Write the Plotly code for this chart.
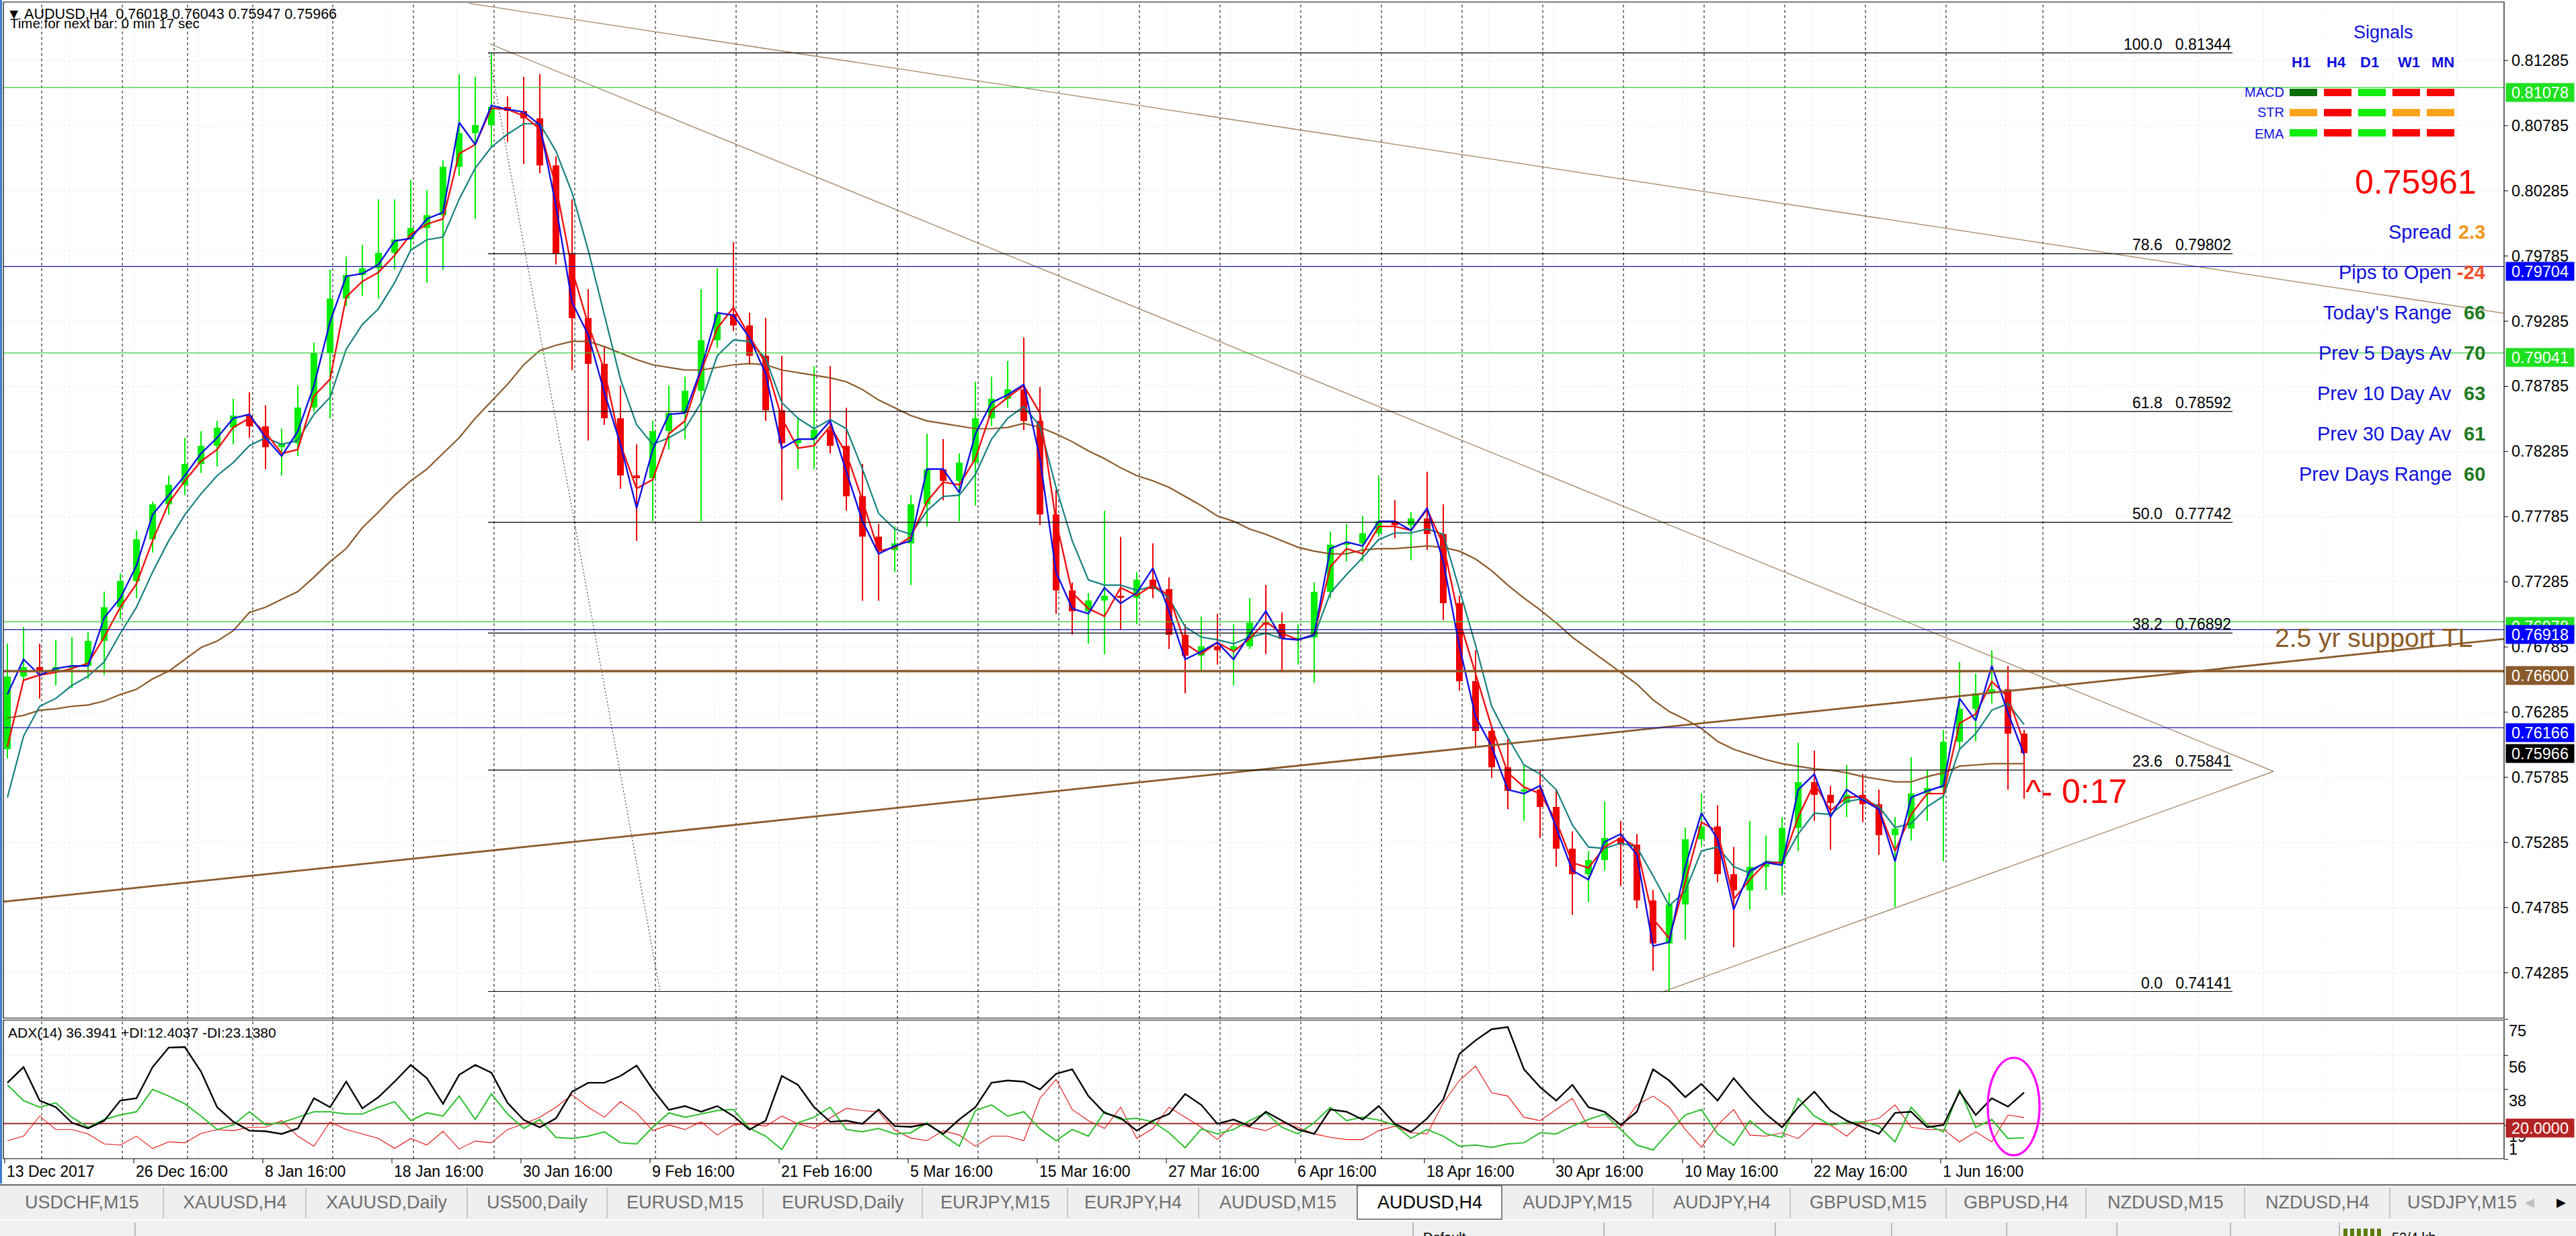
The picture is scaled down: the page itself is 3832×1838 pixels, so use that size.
import plotly.graph_objects as go

W, H = 3832, 1838
FONT = "Liberation Sans, Arial, sans-serif"

# ===================== data =====================
# one candle per trading day; x position in H4-bar units
bar_pos = [1 + 6 * k for k in range(126)]

open_ = [.7600,.7656,.7663,.7660,.7663,.7664,.7683,.7709,.7729,.7761,
         .7788,.7803,.7819,.7833,.7847,.7856,.7848,.7832,.7835,.7862,
         .7904,.7946,.7964,.7969,.7981,.7991,.8000,.8010,.8047,.8073,
         .8079,.8093,.8090,.8084,.8048,.7980,.7931,.7896,.7854,.7810,
         .7808,.7844,.7858,.7875,.7914,.7934,.7925,.7902,.7860,.7835,
         .7838,.7845,.7833,.7794,.7763,.7753,.7758,.7788,.7815,.7806,
         .7820,.7854,.7869,.7876,.7852,.7780,.7722,.7706,.7714,.7718,
         .7716,.7730,.7723,.7688,.7672,.7679,.7676,.7679,.7697,.7696,
         .7685,.7686,.7721,.7757,.7758,.7766,.7775,.7772,.7777,.7765,
         .7712,.7652,.7614,.7586,.7568,.7569,.7556,.7524,.7504,.7515,
         .7532,.7527,.7484,.7451,.7481,.7531,.7541,.7504,.7492,.7510,
         .7512,.7540,.7575,.7565,.7559,.7565,.7558,.7534,.7539,.7566,
         .7570,.7606,.7631,.7643,.7646,.7612]
high = [.7681,.7694,.7681,.7684,.7686,.7690,.7721,.7735,.7768,.7790,
        .7810,.7839,.7844,.7852,.7869,.7874,.7864,.7846,.7879,.7912,
        .7968,.7978,.7987,.8022,.8022,.8037,.8029,.8052,.8118,.8116,
        .8134,.8101,.8116,.8118,.8055,.8022,.7953,.7909,.7879,.7834,
        .7852,.7879,.7886,.7953,.7969,.7989,.7935,.7931,.7902,.7854,
        .7894,.7894,.7862,.7819,.7773,.7771,.7795,.7842,.7838,.7827,
        .7882,.7886,.7898,.7916,.7878,.7799,.7728,.7720,.7783,.7763,
        .7736,.7758,.7732,.7696,.7702,.7704,.7696,.7716,.7726,.7705,
        .7696,.7728,.7767,.7773,.7779,.7810,.7791,.7782,.7813,.7788,
        .7718,.7676,.7617,.7608,.7588,.7584,.7569,.7537,.7522,.7560,
        .7545,.7535,.7492,.7490,.7540,.7566,.7557,.7525,.7545,.7534,
        .7548,.7605,.7599,.7572,.7588,.7581,.7569,.7548,.7594,.7584,
        .7615,.7667,.7658,.7676,.7664,.7615]
low = [.7593,.7652,.7639,.7649,.7647,.7654,.7657,.7700,.7716,.7751,
       .7780,.7795,.7812,.7817,.7834,.7839,.7815,.7810,.7825,.7859,
       .7854,.7940,.7948,.7946,.7968,.7983,.7958,.7968,.8040,.8007,
       .8062,.8066,.8049,.8042,.7972,.7891,.7837,.7849,.7800,.7760,
       .7775,.7830,.7838,.7775,.7908,.7921,.7895,.7852,.7791,.7815,
       .7815,.7827,.7783,.7714,.7714,.7736,.7726,.7771,.7791,.7775,
       .7787,.7848,.7862,.7845,.7772,.7704,.7688,.7681,.7673,.7692,
       .7696,.7716,.7677,.7643,.7659,.7665,.7649,.7677,.7673,.7659,
       .7665,.7651,.7716,.7744,.7744,.7763,.7762,.7745,.7753,.7699,
       .7645,.7602,.7578,.7554,.7545,.7532,.7510,.7473,.7483,.7507,
       .7495,.7478,.7430,.7414,.7454,.7525,.7498,.7448,.7477,.7492,
       .7488,.7522,.7545,.7523,.7548,.7544,.7519,.7479,.7530,.7545,
       .7514,.7600,.7606,.7635,.7569,.7562]
close = [.7656,.7663,.7660,.7663,.7664,.7683,.7709,.7729,.7761,.7788,
         .7803,.7819,.7833,.7847,.7856,.7848,.7832,.7835,.7862,.7904,
         .7946,.7964,.7969,.7981,.7991,.8000,.8010,.8047,.8073,.8079,
         .8093,.8090,.8084,.8048,.7980,.7931,.7896,.7854,.7810,.7808,
         .7844,.7858,.7875,.7914,.7934,.7925,.7902,.7860,.7835,.7838,
         .7845,.7833,.7794,.7763,.7753,.7758,.7788,.7815,.7806,.7820,
         .7854,.7869,.7876,.7852,.7780,.7722,.7706,.7714,.7718,.7716,
         .7730,.7723,.7688,.7672,.7679,.7676,.7679,.7697,.7696,.7685,
         .7686,.7721,.7757,.7758,.7766,.7775,.7772,.7777,.7765,.7712,
         .7652,.7614,.7586,.7568,.7569,.7556,.7524,.7504,.7515,.7532,
         .7527,.7484,.7451,.7481,.7531,.7541,.7504,.7492,.7510,.7512,
         .7540,.7575,.7565,.7559,.7565,.7558,.7534,.7539,.7566,.7570,
         .7606,.7631,.7643,.7646,.7612,.7597]

ma_fast = [.7642,.7669,.7657,.7662,.7664,.7664,.7701,.7716,.7741,.7780,
           .7795,.7810,.7827,.7839,.7854,.7857,.7839,.7825,.7844,.7879,
           .7928,.7963,.7965,.7972,.7990,.7992,.8007,.8012,.8081,.8064,
           .8094,.8091,.8089,.8079,.8017,.7943,.7918,.7874,.7834,.7785,
           .7830,.7857,.7858,.7892,.7935,.7933,.7916,.7888,.7831,.7838,
           .7838,.7852,.7813,.7775,.7750,.7756,.7760,.7815,.7815,.7797,
           .7842,.7866,.7872,.7880,.7823,.7736,.7708,.7704,.7724,.7712,
           .7720,.7739,.7706,.7669,.7675,.7682,.7669,.7688,.7706,.7685,
           .7684,.7688,.7754,.7759,.7756,.7775,.7775,.7768,.7785,.7744,
           .7679,.7625,.7602,.7569,.7566,.7572,.7540,.7507,.7500,.7529,
           .7535,.7519,.7449,.7452,.7510,.7551,.7531,.7477,.7507,.7513,
           .7511,.7569,.7581,.7548,.7569,.7561,.7554,.7514,.7563,.7568,
           .7572,.7639,.7622,.7664,.7628,.7596]
ma_mid = [.7602,.7653,.7657,.7659,.7662,.7666,.7686,.7709,.7727,.7760,
          .7789,.7806,.7821,.7830,.7847,.7854,.7843,.7827,.7830,.7871,
          .7884,.7947,.7959,.7966,.7979,.7995,.8003,.8007,.8057,.8064,
          .8092,.8091,.8086,.8076,.8032,.7968,.7926,.7891,.7834,.7800,
          .7807,.7842,.7852,.7890,.7923,.7939,.7917,.7896,.7854,.7831,
          .7833,.7848,.7827,.7791,.7752,.7755,.7763,.7790,.7805,.7803,
          .7823,.7860,.7870,.7879,.7858,.7775,.7720,.7708,.7702,.7724,
          .7718,.7726,.7718,.7681,.7673,.7682,.7675,.7685,.7698,.7689,
          .7684,.7688,.7740,.7754,.7750,.7771,.7771,.7768,.7784,.7757,
          .7699,.7658,.7617,.7582,.7571,.7566,.7545,.7513,.7509,.7525,
          .7532,.7525,.7470,.7455,.7498,.7544,.7537,.7485,.7500,.7513,
          .7513,.7548,.7574,.7553,.7563,.7564,.7554,.7522,.7550,.7566,
          .7566,.7620,.7627,.7652,.7640,.7605]
ma_slow = [.7563,.7610,.7633,.7639,.7649,.7656,.7667,.7689,.7709,.7736,
           .7760,.7780,.7796,.7810,.7820,.7833,.7839,.7834,.7837,.7857,
           .7870,.7907,.7926,.7938,.7958,.7983,.7991,.7993,.8022,.8046,
           .8062,.8072,.8080,.8080,.8059,.8027,.7983,.7933,.7884,.7849,
           .7834,.7839,.7846,.7866,.7902,.7914,.7913,.7900,.7866,.7854,
           .7846,.7853,.7846,.7815,.7781,.7769,.7765,.7783,.7794,.7795,
           .7811,.7838,.7854,.7863,.7848,.7801,.7760,.7730,.7726,.7726,
           .7722,.7725,.7716,.7694,.7686,.7684,.7681,.7686,.7689,.7685,
           .7684,.7687,.7720,.7734,.7747,.7761,.7766,.7766,.7769,.7765,
           .7723,.7680,.7633,.7609,.7588,.7581,.7569,.7542,.7525,.7524,
           .7528,.7525,.7503,.7480,.7491,.7522,.7525,.7510,.7505,.7514,
           .7513,.7535,.7551,.7550,.7560,.7562,.7556,.7540,.7543,.7556,
           .7564,.7600,.7612,.7630,.7635,.7619]
ma_200 = [.7624,.7626,.7630,.7631,.7633,.7634,.7637,.7642,.7646,.7654,
          .7660,.7669,.7678,.7683,.7691,.7705,.7709,.7715,.7721,.7732,
          .7744,.7754,.7770,.7782,.7795,.7806,.7815,.7827,.7839,.7854,
          .7867,.7880,.7895,.7906,.7910,.7913,.7913,.7909,.7904,.7899,
          .7895,.7893,.7891,.7891,.7893,.7895,.7896,.7895,.7891,.7889,
          .7887,.7885,.7882,.7876,.7868,.7862,.7856,.7852,.7850,.7848,
          .7846,.7846,.7847,.7850,.7847,.7842,.7836,.7829,.7823,.7816,
          .7810,.7806,.7801,.7794,.7787,.7779,.7775,.7769,.7765,.7760,
          .7755,.7752,.7750,.7750,.7753,.7754,.7754,.7755,.7756,.7755,
          .7752,.7746,.7737,.7726,.7716,.7707,.7697,.7686,.7677,.7668,
          .7659,.7650,.7638,.7629,.7623,.7616,.7606,.7600,.7596,.7592,
          .7589,.7587,.7585,.7584,.7582,.7579,.7577,.7575,.7575,.7579,
          .7582,.7587,.7588,.7589,.7589,.7589]

adx = [41.5,49.8,32.1,28.6,20.4,17.4,21.5,32.1,33.3,49.8,
       60.1,60.4,47.4,28.6,20.9,16.2,15.9,14.5,17.4,33.3,
       28.6,42.1,28.0,33.9,42.1,50.9,43.9,30.4,45.7,50.9,
       46.8,30.9,21.9,18.0,22.7,36.8,41.5,41.5,45.1,50.6,
       38.0,27.2,29.2,26.2,29.2,23.9,16.8,21.5,45.1,40.4,
       28.6,20.9,21.5,19.8,27.4,18.6,18.2,19.8,14.5,22.1,
       28.6,41.5,42.7,42.1,38.0,46.2,48.6,34.5,25.6,22.9,
       16.2,21.5,25.0,35.6,29.8,19.8,22.1,18.6,26.2,21.5,
       16.8,14.5,27.4,26.2,22.1,29.2,19.8,15.6,22.7,32.7,
       56.8,63.9,69.8,70.9,48.6,39.2,32.1,40.4,28.6,26.2,
       19.2,26.2,48.6,42.7,33.9,40.9,32.1,43.9,33.9,25.0,
       18.0,28.6,36.8,26.8,21.5,18.0,14.5,25.6,26.2,18.0,
       19.2,36.8,24.5,33.3,28.9,36.39]
plus_di = [40.4,32.1,28.6,30.9,23.3,18.0,22.1,24.5,26.2,38.0,
           34.5,30.4,23.9,16.8,19.2,26.2,19.4,20.4,23.3,26.2,
           26.2,25.0,25.0,28.6,31.5,21.5,25.6,23.9,34.5,22.1,
           35.6,25.0,17.4,22.1,12.7,12.1,13.3,15.6,9.8,9.2,
           18.0,25.6,23.3,25.0,26.8,27.4,17.4,13.3,6.2,20.4,
           23.3,28.6,16.8,15.6,17.4,14.5,15.1,20.4,13.9,8.0,
           26.8,29.8,23.9,26.2,17.1,10.9,16.8,13.3,26.2,22.1,
           22.7,20.9,15.1,7.2,17.1,14.5,16.8,21.5,25.6,18.0,
           14.5,20.4,28.6,21.5,23.3,21.8,19.2,12.1,16.8,13.3,
           8.0,8.6,7.4,9.2,9.8,15.1,14.5,18.6,22.1,25.0,
           16.8,8.6,6.0,15.6,24.5,27.4,14.5,8.6,21.5,14.5,
           12.7,33.3,23.9,19.2,20.4,20.9,18.6,10.3,28.6,19.2,
           15.6,38.0,18.0,22.1,12.1,12.40]
minus_di = [10.9,13.3,23.9,16.8,16.8,14.5,9.2,8.6,13.3,6.8,
            10.3,9.8,14.7,16.8,16.2,18.0,18.0,21.5,13.3,8.0,
            20.9,16.8,14.5,12.1,6.8,12.1,8.6,15.9,6.5,10.7,
            9.8,16.8,19.8,23.3,28.6,35.1,28.6,23.3,31.5,25.6,
            16.2,19.2,16.8,20.9,13.9,19.2,19.8,18.6,23.9,19.8,
            17.4,22.9,28.0,26.8,26.2,16.5,12.3,10.9,16.2,13.9,
            8.0,13.3,13.3,10.9,33.3,43.3,27.4,21.5,17.4,28.6,
            12.1,17.4,28.6,23.3,18.0,11.5,19.8,18.0,16.2,20.4,
            18.0,14.5,12.7,11.5,11.5,16.2,18.6,15.1,14.5,30.9,
            42.7,50.3,36.2,34.5,23.3,21.5,27.4,33.3,18.0,18.0,
            18.0,29.8,34.5,28.6,16.8,7.4,19.2,27.4,13.9,13.3,
            15.1,12.1,19.8,19.2,13.3,20.9,22.7,29.8,18.0,16.8,
            16.8,10.3,15.6,10.3,24.5,23.14]

date_labels = ["13 Dec 2017", "26 Dec 16:00", "8 Jan 16:00", "18 Jan 16:00", "30 Jan 16:00",
               "9 Feb 16:00", "21 Feb 16:00", "5 Mar 16:00", "15 Mar 16:00", "27 Mar 16:00",
               "6 Apr 16:00", "18 Apr 16:00", "30 Apr 16:00", "10 May 16:00", "22 May 16:00",
               "1 Jun 16:00"]
date_label_bars = [0, 48, 96, 144, 192, 240, 288, 336, 384, 432, 480, 528, 576, 624, 672, 720]
week_sep_bars = [13.75, 43.75, 68, 92.25, 122, 152, 182, 212, 242, 272, 302, 332, 362, 392,
                 422, 452, 482, 512, 542, 572, 602, 632, 662, 692, 722, 758]
price_ticks = ["0.81285", "0.80785", "0.80285", "0.79785", "0.79285", "0.78785", "0.78285",
               "0.77785", "0.77285", "0.76785", "0.76285", "0.75785", "0.75285", "0.74785", "0.74285"]
fib_levels = ["100.0", "78.6", "61.8", "50.0", "38.2", "23.6", "0.0"]
fib_prices = [0.81344, 0.79802, 0.78592, 0.77742, 0.76892, 0.75841, 0.74141]
fib_span = [179.75, 828.5]
fib_diag_x = [180, 243.75]
fib_diag_y = [0.81344, 0.74141]
level_prices = [0.81078, 0.79704, 0.79041, 0.76978, 0.76918, 0.76600, 0.76166]
level_kinds = ["green", "blue", "green", "green", "blue", "brown", "blue"]
bid_price = 0.75966
trend_x = [[172.5, 929.5], [180.25, 843.75], [616.5, 843.75]]
trend_y = [[0.81724, 0.79345], [0.81414, 0.7583], [0.74138, 0.7583]]
support_x = [-0.5, 929.5]
support_y = [0.74830, 0.76847]
adx_level = 20.0
adx_tick_vals = [75, 56, 38, 19, 1]
adx_tick_labels = ["75", "56", "38", "19", "1"]

signal_cols = ["H1", "H4", "D1", "W1", "MN"]
signal_rows = ["MACD", "STR", "EMA"]
signal_colors = [["#0B6E0B", "#FF0000", "#10EE10", "#FF0000", "#FF0000"],
                 ["#FFA31A", "#FF0000", "#10EE10", "#FFA31A", "#FFA31A"],
                 ["#10EE10", "#FF0000", "#10EE10", "#FF0000", "#FF0000"]]
info_labels = ["Spread", "Pips to Open", "Today's Range", "Prev 5 Days Av",
               "Prev 10 Day Av", "Prev 30 Day Av", "Prev Days Range"]
info_values = ["2.3", "-24", "66", "70", "63", "61", "60"]
info_colors = ["#F0961E", "#F0502A", "#1E7A1E", "#1E7A1E", "#1E7A1E", "#1E7A1E", "#1E7A1E"]
big_price = "0.75961"

tab_names = ["USDCHF,M15", "XAUUSD,H4", "XAUUSD,Daily", "US500,Daily", "EURUSD,M15",
             "EURUSD,Daily", "EURJPY,M15", "EURJPY,H4", "AUDUSD,M15", "AUDUSD,H4",
             "AUDJPY,M15", "AUDJPY,H4", "GBPUSD,M15", "GBPUSD,H4", "NZDUSD,M15",
             "NZDUSD,H4", "USDJPY,M15"]
active_tab = "AUDUSD,H4"

# ===================== layout helpers =====================
def Q(px):
    return px / W

def P(py):
    return 1 - py / H

L_PX, R_PX = 5, 3725
TOP_PX, MAIN_BOT_PX = 3, 1514
ADX_TOP_PX, ADX_BOT_PX = 1517, 1723
ADX_RANGE = [1.41, 74.6]

def adx_py(v):
    # pixel row of an ADX value inside the indicator window (for label placement)
    return ADX_BOT_PX - (v - ADX_RANGE[0]) / (ADX_RANGE[1] - ADX_RANGE[0]) * (ADX_BOT_PX - ADX_TOP_PX)

GREEN_LINE = "#33CC33"
BLUE_LINE = "#1414B4"
BROWN = "#8B5A2B"
UP = "#00EE00"
DOWN = "#EE0000"

fig = go.Figure()

# ---- candles: wicks + bodies ----
for is_up, col in [(True, UP), (False, DOWN)]:
    wx, wy = [], []
    for x, o, h, l, c in zip(bar_pos, open_, high, low, close):
        if (c >= o) == is_up:
            wx += [x, x, None]
            wy += [l, h, None]
    fig.add_trace(go.Scatter(x=wx, y=wy, mode="lines", line=dict(color=col, width=2),
                             hoverinfo="skip", xaxis="x", yaxis="y"))
body_base = [min(o, c) for o, c in zip(open_, close)]
body_h = [max(abs(c - o), 0.00008) for o, c in zip(open_, close)]
body_col = [UP if c >= o else DOWN for o, c in zip(open_, close)]
fig.add_trace(go.Bar(x=bar_pos, y=body_h, base=body_base, width=2.4,
                     marker=dict(color=body_col, line=dict(width=0)),
                     hoverinfo="skip", xaxis="x", yaxis="y"))

# ---- moving averages ----
for series, col, wdt in [(ma_200, "#8B5A2B", 2.2), (ma_slow, "#168080", 2.2),
                         (ma_mid, "#F01010", 2.4), (ma_fast, "#1010E6", 2.4)]:
    fig.add_trace(go.Scatter(x=bar_pos, y=series, mode="lines", line=dict(color=col, width=wdt),
                             hoverinfo="skip", xaxis="x", yaxis="y"))

# ---- trend lines ----
for tx, ty in zip(trend_x, trend_y):
    fig.add_trace(go.Scatter(x=tx, y=ty, mode="lines", line=dict(color="#A08464", width=1.3),
                             hoverinfo="skip", xaxis="x", yaxis="y"))
fig.add_trace(go.Scatter(x=support_x, y=support_y, mode="lines", line=dict(color=BROWN, width=2.8),
                         hoverinfo="skip", xaxis="x", yaxis="y"))
fig.add_trace(go.Scatter(x=fib_diag_x, y=fib_diag_y, mode="lines",
                         line=dict(color="#222222", width=1, dash="2px,3px"),
                         hoverinfo="skip", xaxis="x", yaxis="y"))
for fp in fib_prices:
    fig.add_trace(go.Scatter(x=fib_span, y=[fp, fp], mode="lines", line=dict(color="black", width=1.2),
                             hoverinfo="skip", xaxis="x", yaxis="y"))

# ---- ADX panel ----
fig.add_trace(go.Scatter(x=bar_pos, y=minus_di, mode="lines", line=dict(color="#E01010", width=1.1),
                         hoverinfo="skip", xaxis="x2", yaxis="y2"))
fig.add_trace(go.Scatter(x=bar_pos, y=plus_di, mode="lines", line=dict(color="#2DBE2D", width=2),
                         hoverinfo="skip", xaxis="x2", yaxis="y2"))
fig.add_trace(go.Scatter(x=bar_pos, y=adx, mode="lines", line=dict(color="black", width=2.4),
                         hoverinfo="skip", xaxis="x2", yaxis="y2"))

# ===================== shapes =====================
shapes = []

def line(**kw):
    d = dict(type="line")
    d.update(kw)
    shapes.append(d)

def rect(**kw):
    d = dict(type="rect")
    d.update(kw)
    shapes.append(d)

# faint grid
for t in price_ticks:
    v = float(t)
    line(xref="paper", x0=Q(L_PX), x1=Q(R_PX), yref="y", y0=v, y1=v,
         line=dict(color="#E8E8E8", width=1, dash="dot"), layer="below")
for v in [56, 38, 19]:
    line(xref="paper", x0=Q(L_PX), x1=Q(R_PX), yref="y2", y0=v, y1=v,
         line=dict(color="#E8E8E8", width=1, dash="dot"), layer="below")
for b in range(0, 930, 24):
    line(xref="x", x0=b, x1=b, yref="paper", y0=P(MAIN_BOT_PX), y1=P(TOP_PX),
         line=dict(color="#E8E8E8", width=1, dash="dot"), layer="below")
    line(xref="x", x0=b, x1=b, yref="paper", y0=P(ADX_BOT_PX), y1=P(ADX_TOP_PX),
         line=dict(color="#E8E8E8", width=1, dash="dot"), layer="below")
# week separators
for b in week_sep_bars:
    line(xref="x", x0=b, x1=b, yref="paper", y0=P(ADX_BOT_PX), y1=P(TOP_PX),
         line=dict(color="black", width=1, dash="4px,4px"), layer="below")
# ADX 20 level
line(xref="paper", x0=Q(L_PX), x1=Q(R_PX), yref="y2", y0=adx_level, y1=adx_level,
     line=dict(color="#9B2D2D", width=2), layer="below")
# price levels
for pr, kind in zip(level_prices, level_kinds):
    if kind == "brown":
        st = dict(color=BROWN, width=3.6)
    elif kind == "green":
        st = dict(color=GREEN_LINE, width=1.2)
    else:
        st = dict(color=BLUE_LINE, width=1.2)
    line(xref="paper", x0=Q(L_PX), x1=Q(R_PX), yref="y", y0=pr, y1=pr, line=st, layer="above")
# panel frames
rect(xref="paper", yref="paper", x0=Q(L_PX), x1=Q(R_PX), y0=P(MAIN_BOT_PX), y1=P(TOP_PX),
     line=dict(color="black", width=1.2), layer="above")
rect(xref="paper", yref="paper", x0=Q(L_PX), x1=Q(R_PX), y0=P(ADX_BOT_PX), y1=P(ADX_TOP_PX),
     line=dict(color="black", width=1.2), layer="above")
# window edge (left blue frame)
rect(xref="paper", yref="paper", x0=0, x1=Q(3), y0=P(1760), y1=1, fillcolor="#3D7DCA",
     line=dict(width=0), layer="above")
# price axis ticks
for t in price_ticks:
    v = float(t)
    line(xref="paper", x0=Q(R_PX), x1=Q(R_PX + 6), yref="y", y0=v, y1=v,
         line=dict(color="black", width=1))
for v in adx_tick_vals:
    yy = adx_py(v)
    line(xref="paper", x0=Q(R_PX), x1=Q(R_PX + 6), yref="paper", y0=P(yy), y1=P(yy),
         line=dict(color="black", width=1))
# date ticks
for b in date_label_bars:
    line(xref="x", x0=b, x1=b, yref="paper", y0=P(ADX_BOT_PX + 7), y1=P(ADX_BOT_PX),
         line=dict(color="black", width=1))
# magenta ellipse
shapes.append(dict(type="circle", xref="x2", yref="y2", x0=737.5, x1=756.75, y0=3.2, y1=54.7,
                   line=dict(color="#FF00FF", width=3.2), layer="above"))
# signals grid rectangles
col_x0 = [3406, 3457, 3508, 3559, 3610]
row_y0 = [132, 162, 192]
for ri, row in enumerate(signal_colors):
    for ci, colr in enumerate(row):
        rect(xref="paper", yref="paper", x0=Q(col_x0[ci]), x1=Q(col_x0[ci] + 41),
             y0=P(row_y0[ri] + 11), y1=P(row_y0[ri]), fillcolor=colr, line=dict(width=0),
             layer="above")

# tabs bar
rect(xref="paper", yref="paper", x0=0, x1=1, y0=P(1814), y1=P(1762), fillcolor="#EFEFEF",
     line=dict(width=0), layer="above")
rect(xref="paper", yref="paper", x0=0, x1=1, y0=0, y1=P(1815), fillcolor="#F0F0F0",
     line=dict(width=0), layer="above")
line(xref="paper", yref="paper", x0=0, x1=1, y0=P(1762), y1=P(1762),
     line=dict(color="#6A6A6A", width=2), layer="above")
line(xref="paper", yref="paper", x0=0, x1=1, y0=P(1814.5), y1=P(1814.5),
     line=dict(color="#FFFFFF", width=1.5), layer="above")
tab_seps = [243, 455, 695, 903, 1135, 1372, 1588, 1783, 2019, 2234, 2459, 2663, 2895, 3103, 3339, 3555]
tab_edges = [0] + tab_seps + [3770]
ai = tab_names.index(active_tab)
rect(xref="paper", yref="paper", x0=Q(tab_edges[ai]), x1=Q(tab_edges[ai + 1]),
     y0=P(1813), y1=P(1763), fillcolor="#FFFFFF", line=dict(color="#5A5A5A", width=1.5),
     layer="above")
for sx in tab_seps:
    if sx in (tab_edges[ai], tab_edges[ai + 1]):
        continue
    line(xref="paper", yref="paper", x0=Q(sx), x1=Q(sx), y0=P(1811), y1=P(1766),
         line=dict(color="#B8B8B8", width=1.5), layer="above")
for sx in [201, 2102, 2386, 2641, 2814, 2985, 3149, 3318, 3480]:
    line(xref="paper", yref="paper", x0=Q(sx), x1=Q(sx), y0=0, y1=P(1818),
         line=dict(color="#A8A8A8", width=1.5), layer="above")
for i in range(6):
    rect(xref="paper", yref="paper", x0=Q(3486 + i * 10), x1=Q(3492 + i * 10), y0=0, y1=P(1827),
         fillcolor="#5E7D0E", line=dict(width=0), layer="above")

# ===================== annotations =====================
ann = []

def A(text, x, y, size, color="black", xanchor="left", yanchor="middle", xref="paper",
      yref="paper", **kw):
    d = dict(text=text, x=x, y=y, xref=xref, yref=yref, xanchor=xanchor, yanchor=yanchor,
             showarrow=False, font=dict(family=FONT, size=size, color=color))
    d.update(kw)
    ann.append(d)

# header texts
A("\u25BC AUDUSD,H4  0.76018 0.76043 0.75947 0.75966", Q(8), P(21), 21.5)
A("Time for next bar: 0 min 17 sec", Q(13), P(34), 20.5)
A("ADX(14) 36.3941 +DI:12.4037 -DI:23.1380", Q(10), P(1535), 21)

# fib labels
for lv, fp in zip(fib_levels, fib_prices):
    A(lv + "\u00a0\u00a0\u00a0" + "%.5f" % fp, fib_span[1], fp, 23, xref="x", yref="y",
      xanchor="right", yshift=13)

# price axis labels
for t in price_ticks:
    A(t, Q(3734), float(t), 23.5, yref="y")
adx_label_px = [1533, 1587, 1637, 1690, 1709]
for yy, lab in zip(adx_label_px, adx_tick_labels):
    A(lab, Q(3730), P(yy), 23.5)

# price label boxes
box_bg = {"green": "#1FE01F", "blue": "#0000FF", "brown": "#8B5A2B"}
for pr, kind in zip(level_prices, level_kinds):
    A("%.5f" % pr, Q(3727), pr, 23.5, color="white", yref="y", bgcolor=box_bg[kind],
      width=99, height=25, borderpad=1, align="center", yshift=-7)
A("%.5f" % bid_price, Q(3727), bid_price, 23.5, color="white", yref="y", bgcolor="#000000",
  width=99, height=25, borderpad=1, align="center")
A("%.4f" % adx_level, Q(3727), adx_level, 23.5, color="white", yref="y2", bgcolor="#B42323",
  width=99, height=25, borderpad=1, align="center", yshift=-7)

# date labels
for b, lab in zip(date_label_bars, date_labels):
    A(lab, b, P(1742), 23, xref="x", xshift=1)

# chart texts
A("2.5 yr support TL", Q(3382), P(949), 39, color="#8C5A28")
A("^- 0:17", Q(3011), P(1177), 50, color="#FF0000")

# signals panel
SIG_BLUE = "#1010DC"
A("Signals", Q(3545), P(48), 27, color=SIG_BLUE, xanchor="center")
for cx, lab in zip([3423, 3475, 3525, 3583, 3634], signal_cols):
    A("<b>" + lab + "</b>", Q(cx), P(93), 22, color=SIG_BLUE, xanchor="center")
for ry, lab in zip([137, 167, 199], signal_rows):
    A(lab, Q(3400), P(ry), 20, color=SIG_BLUE, xanchor="right")
A(big_price, Q(3686), P(271), 50, color="#FF0000", xanchor="right")
for i, (lab, val, vc) in enumerate(zip(info_labels, info_values, info_colors)):
    yy = 345 + 60 * i
    A(lab, Q(3649), P(yy), 29, color=SIG_BLUE, xanchor="right")
    A("<b>" + val + "</b>", Q(3699), P(yy), 29, color=vc, xanchor="right")

# tabs
for i, name in enumerate(tab_names):
    cx = (tab_edges[i] + tab_edges[i + 1]) / 2
    A(name, Q(cx), P(1788), 27, color=("black" if name == active_tab else "#6E6E6E"),
      xanchor="center")
A("\u25C0", Q(3763), P(1788), 18, color="#C0C0C0", xanchor="center")
A("\u25B6", Q(3810), P(1788), 18, color="black", xanchor="center")
A("Default", Q(2115), P(1827), 20, color="black", yanchor="top")
A("53/4 kb", Q(3556), P(1827), 20, color="black", yanchor="top")

axis_common = dict(showgrid=False, zeroline=False, showticklabels=False, ticks="",
                   showline=False, fixedrange=True)
fig.update_layout(
    width=W, height=H, margin=dict(l=0, r=0, t=0, b=0),
    paper_bgcolor="white", plot_bgcolor="white", showlegend=False,
    xaxis=dict(domain=[Q(L_PX), Q(R_PX)], range=[-0.5, 929.5], anchor="y", **axis_common),
    yaxis=dict(domain=[P(MAIN_BOT_PX), P(TOP_PX)], range=[0.739372, 0.817339], anchor="x",
               **axis_common),
    xaxis2=dict(domain=[Q(L_PX), Q(R_PX)], range=[-0.5, 929.5], anchor="y2", **axis_common),
    yaxis2=dict(domain=[P(ADX_BOT_PX), P(ADX_TOP_PX)], range=ADX_RANGE, anchor="x2",
                **axis_common),
    shapes=shapes, annotations=ann, bargap=0,
)

fig.write_html("out.html")
